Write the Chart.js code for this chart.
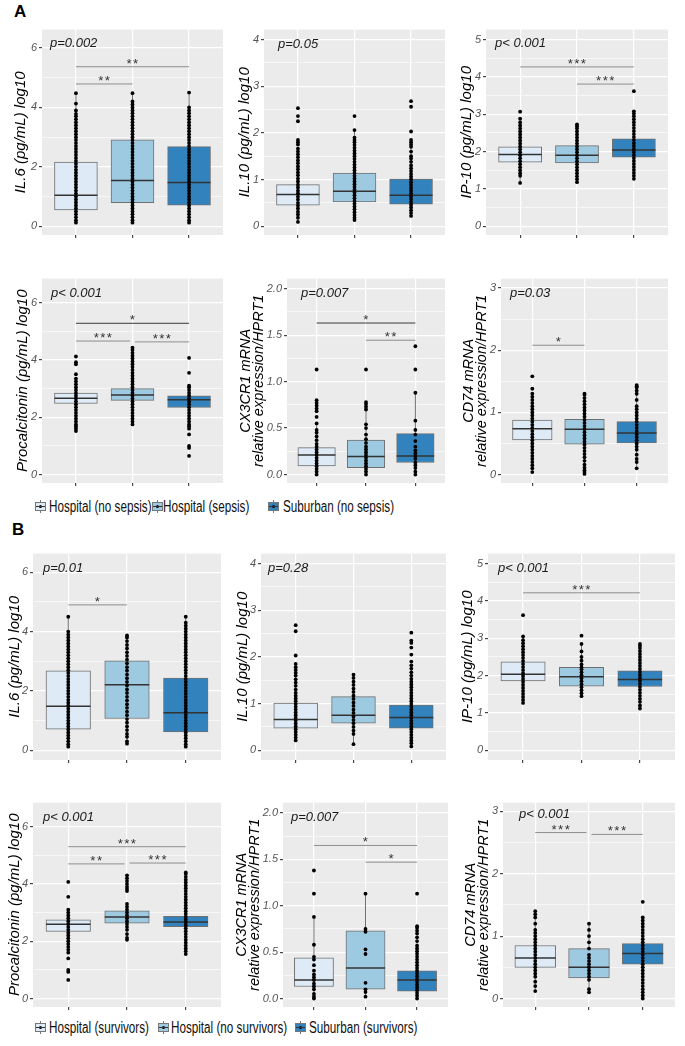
<!DOCTYPE html>
<html>
<head>
<meta charset="utf-8">
<script src="https://cdn.jsdelivr.net/npm/chart.js@4.4.1/dist/chart.umd.min.js"></script>
<style>
	body { margin: 0; width: 685px; height: 1046px; position: relative; overflow: hidden; background: #fff; font-family: "Liberation Sans", Arial, sans-serif; }
	canvas { position: absolute; }
	.tag { position: absolute; font-weight: bold; font-size: 17px; line-height: 17px; }
	.legtext { position: absolute; font-family: "Liberation Sans", Arial, sans-serif; font-size: 16px; line-height: 16px; white-space: nowrap; color: #111; transform: scaleX(0.73); transform-origin: 0 50%; }
	.key { position: absolute; width: 11px; height: 9px; box-sizing: border-box; border: 1px solid #777; }
	.key::before { content: ""; position: absolute; left: 3px; top: 2px; width: 3px; height: 3px; border-radius: 50%; background: #000; }
	.key::after { content: ""; position: absolute; left: 0; right: 0; top: 3px; height: 1px; background: #333; }
	.whisk { position: absolute; width: 1px; height: 13px; background: #777; }
</style>
</head>
<body>
<div class="tag" style="left:14px; top:3px;">A</div>
<div class="tag" style="left:12px; top:521px;">B</div>
<script>
// ---- data ----
const groupsA = ["Hospital (no sepsis)", "Hospital (sepsis)", "Suburban (no sepsis)"];
const groupsB = ["Hospital (survivors)", "Hospital (no survivors)", "Suburban (survivors)"];

const ticksIL6 = [0, 2, 4, 6];
const ticksIL10 = [0, 1, 2, 3, 4];
const ticksIP10 = [0, 1, 2, 3, 4, 5];
const ticksPCT = [0, 2, 4, 6];
const ticksCX3 = [0, 0.5, 1, 1.5, 2];
const ticksCD74 = [0, 1, 2, 3];

// box stats per group: [q1, median, q3]; whiskers: [low, high]
const a1Stats = [[0.55, 1.04, 2.16], [0.79, 1.54, 2.91], [0.71, 1.47, 2.68]];
const a1Whisk = [[0.12, 4.48], [0.12, 4.48], [0.12, 4.5]];
const a1Pts = [
	[0.12,0.2,0.3,0.4,0.5,0.6,0.7,0.8,0.9,1.0,1.1,1.2,1.3,1.4,1.5,1.6,1.7,1.8,1.9,2.0,2.1,2.2,2.3,2.4,2.5,2.6,2.7,2.8,2.9,3.0,3.1,3.2,3.3,3.4,3.5,3.6,3.7,3.78,3.9,4.13,4.48],
	[0.12,0.2,0.3,0.4,0.5,0.6,0.7,0.8,0.9,1.0,1.1,1.2,1.3,1.4,1.5,1.6,1.7,1.8,1.9,2.0,2.1,2.2,2.3,2.4,2.5,2.6,2.7,2.8,2.9,3.0,3.1,3.2,3.3,3.4,3.5,3.6,3.7,3.8,3.9,4.0,4.1,4.2,4.48],
	[0.12,0.2,0.3,0.4,0.5,0.6,0.7,0.8,0.9,1.0,1.1,1.2,1.3,1.4,1.5,1.6,1.7,1.8,1.9,2.0,2.1,2.2,2.3,2.4,2.5,2.6,2.7,2.8,2.9,3.0,3.1,3.2,3.3,3.4,3.5,3.6,3.7,3.8,3.9,4.0,4.5]
];
const a1Sig = [[1, 2, 4.79, "**"], [1, 3, 5.37, "**"]];

const a2Stats = [[0.45, 0.68, 0.89], [0.52, 0.75, 1.14], [0.47, 0.66, 1.01]];
const a2Whisk = [[0.09, 1.54], [0.13, 2.06], [0.22, 1.8]];
const a2Pts = [
	[0.09,0.18,0.25,0.31,0.38,0.44,0.5,0.57,0.63,0.7,0.76,0.83,0.89,0.96,1.02,1.09,1.15,1.22,1.28,1.35,1.41,1.48,1.54,1.6,1.66,1.75,1.8,1.85,2.25,2.36,2.53],
	[0.13,0.18,0.24,0.3,0.36,0.42,0.48,0.54,0.6,0.66,0.72,0.78,0.84,0.9,0.96,1.02,1.08,1.14,1.2,1.26,1.32,1.38,1.44,1.5,1.56,1.62,1.68,1.74,1.8,1.85,1.9,2.06,2.36],
	[0.22,0.28,0.34,0.4,0.46,0.52,0.58,0.64,0.7,0.76,0.82,0.88,0.94,1.0,1.06,1.12,1.18,1.24,1.3,1.38,1.45,1.5,1.6,1.7,1.75,1.8,1.85,2.03,2.56,2.68]
];
const a2Sig = [];

const a3Stats = [[1.72, 1.92, 2.13], [1.70, 1.90, 2.16], [1.85, 2.04, 2.34]];
const a3Whisk = [[1.16, 2.75], [1.18, 2.73], [1.27, 3.07]];
const a3Pts = [
	[1.16,1.35,1.42,1.5,1.58,1.66,1.74,1.82,1.9,1.98,2.06,2.14,2.22,2.3,2.38,2.46,2.54,2.62,2.7,2.78,2.88,3.07],
	[1.18,1.26,1.34,1.42,1.5,1.58,1.66,1.74,1.82,1.9,1.98,2.06,2.14,2.22,2.3,2.38,2.46,2.54,2.62,2.68,2.73],
	[1.27,1.35,1.43,1.51,1.59,1.67,1.75,1.83,1.91,1.99,2.07,2.15,2.23,2.31,2.39,2.47,2.55,2.63,2.71,2.79,2.87,2.95,3.02,3.08,3.62]
];
const a3Sig = [[1, 3, 4.27, "***"], [2, 3, 3.81, "***"]];

const a4Stats = [[2.48, 2.66, 2.84], [2.59, 2.78, 3.0], [2.34, 2.61, 2.75]];
const a4Whisk = [[1.95, 3.35], [1.98, 3.6], [1.75, 3.1]];
const a4Pts = [
	[1.52,1.6,1.68,1.75,1.85,1.95,2.05,2.15,2.25,2.35,2.45,2.55,2.65,2.75,2.85,2.95,3.05,3.15,3.25,3.35,3.5,3.85,3.92,4.12],
	[1.75,1.85,1.95,2.05,2.15,2.25,2.35,2.45,2.55,2.65,2.75,2.85,2.95,3.05,3.15,3.25,3.35,3.45,3.55,3.65,3.75,3.85,3.95,4.05,4.15,4.25,4.35,4.43],
	[0.65,0.93,1.0,1.4,1.6,1.68,1.75,1.85,1.95,2.05,2.15,2.25,2.35,2.45,2.55,2.65,2.75,2.85,2.95,3.05,3.1,3.55,4.07]
];
const a4Sig = [[1, 3, 5.28, "*"], [1, 2, 4.66, "***"], [2, 3, 4.63, "***"]];

const a5Stats = [[0.094, 0.21, 0.29], [0.073, 0.195, 0.37], [0.13, 0.2, 0.44]];
const a5Whisk = [[0, 0.55], [0, 0.78], [0, 0.88]];
const a5Pts = [
	[0,0.03,0.06,0.09,0.12,0.15,0.18,0.21,0.24,0.27,0.3,0.33,0.37,0.41,0.45,0.48,0.55,0.62,0.68,0.71,0.74,0.77,0.8,1.13],
	[0,0.03,0.06,0.09,0.12,0.15,0.18,0.21,0.24,0.27,0.3,0.34,0.38,0.43,0.5,0.54,0.7,0.73,0.76,0.78,1.13],
	[0,0.03,0.07,0.1,0.13,0.17,0.2,0.23,0.26,0.3,0.36,0.43,0.48,0.58,0.88,1.13,1.38]
];
const a5Sig = [[1, 3, 1.63, "*"], [2, 3, 1.445, "**"]];

const a6Stats = [[0.558, 0.735, 0.876], [0.49, 0.73, 0.887], [0.51, 0.667, 0.85]];
const a6Whisk = [[0.04, 1.3], [0.01, 1.3], [0.1, 1.35]];
const a6Pts = [
	[0.04,0.1,0.15,0.2,0.25,0.3,0.35,0.4,0.45,0.5,0.55,0.6,0.65,0.7,0.75,0.8,0.85,0.9,0.95,1.0,1.05,1.1,1.15,1.2,1.25,1.3,1.38,1.58],
	[0.01,0.04,0.07,0.11,0.16,0.22,0.28,0.33,0.38,0.43,0.48,0.53,0.58,0.63,0.68,0.73,0.78,0.83,0.88,0.93,0.98,1.03,1.08,1.13,1.18,1.23,1.28,1.3],
	[0.1,0.2,0.25,0.32,0.4,0.45,0.5,0.55,0.6,0.65,0.7,0.75,0.8,0.85,0.9,0.95,1.0,1.05,1.1,1.2,1.3,1.35,1.4,1.42,1.44]
];
const a6Sig = [[1, 2, 2.08, "*"]];

const b1Stats = [[0.71, 1.48, 2.68], [1.07, 2.21, 3.01], [0.62, 1.26, 2.43]];
const b1Whisk = [[0.12, 4.5], [0.22, 3.87], [0.12, 4.5]];
const b1Pts = [
	[0.12,0.2,0.3,0.4,0.5,0.6,0.7,0.8,0.9,1.0,1.1,1.2,1.3,1.4,1.5,1.6,1.7,1.8,1.9,2.0,2.1,2.2,2.3,2.4,2.5,2.6,2.7,2.8,2.9,3.0,3.1,3.2,3.3,3.4,3.5,3.6,3.7,3.8,3.9,4.0,4.5],
	[0.22,0.3,0.45,0.55,0.68,0.8,0.93,1.05,1.18,1.3,1.43,1.55,1.68,1.8,1.93,2.05,2.18,2.3,2.43,2.55,2.68,2.8,2.93,3.05,3.18,3.3,3.43,3.55,3.68,3.8,3.87],
	[0.12,0.2,0.3,0.4,0.5,0.6,0.7,0.8,0.9,1.0,1.1,1.2,1.3,1.4,1.5,1.6,1.7,1.8,1.9,2.0,2.1,2.2,2.3,2.4,2.5,2.6,2.7,2.8,2.9,3.0,3.1,3.2,3.3,3.4,3.5,3.6,3.7,3.8,3.9,4.0,4.1,4.2,4.3,4.5]
];
const b1Sig = [[1, 2, 4.9, "*"]];

const b2Stats = [[0.47, 0.66, 1.01], [0.58, 0.75, 1.15], [0.47, 0.70, 0.97]];
const b2Whisk = [[0.21, 1.82], [0.13, 1.64], [0.08, 1.72]];
const b2Pts = [
	[0.21,0.27,0.33,0.39,0.45,0.51,0.57,0.63,0.69,0.75,0.81,0.87,0.93,0.99,1.05,1.11,1.17,1.23,1.3,1.38,1.45,1.52,1.6,1.66,1.72,1.78,1.85,2.03,2.55,2.68],
	[0.13,0.35,0.42,0.5,0.58,0.65,0.72,0.8,0.87,0.95,1.02,1.1,1.17,1.25,1.32,1.4,1.47,1.55,1.62],
	[0.08,0.15,0.21,0.27,0.33,0.39,0.45,0.51,0.57,0.63,0.69,0.75,0.81,0.87,0.93,0.99,1.05,1.11,1.17,1.23,1.29,1.35,1.41,1.47,1.53,1.6,1.67,1.75,1.82,1.9,2.05,2.2,2.3,2.35,2.52]
];
const b2Sig = [];

const b3Stats = [[1.86, 2.04, 2.37], [1.72, 1.97, 2.22], [1.71, 1.90, 2.13]];
const b3Whisk = [[1.27, 3.05], [1.45, 2.85], [1.12, 2.76]];
const b3Pts = [
	[1.27,1.35,1.43,1.51,1.59,1.67,1.75,1.83,1.91,1.99,2.07,2.15,2.23,2.31,2.39,2.47,2.55,2.63,2.71,2.79,2.87,2.95,3.05,3.62],
	[1.45,1.53,1.61,1.69,1.77,1.85,1.93,2.01,2.09,2.17,2.22,2.3,2.4,2.5,2.65,2.85,3.07],
	[1.12,1.2,1.3,1.38,1.46,1.54,1.62,1.7,1.78,1.86,1.94,2.02,2.1,2.18,2.26,2.34,2.42,2.5,2.58,2.66,2.74,2.8,2.85]
];
const b3Sig = [[1, 3, 4.22, "***"]];

const b4Stats = [[2.34, 2.59, 2.75], [2.63, 2.85, 3.06], [2.51, 2.67, 2.87]];
const b4Whisk = [[1.8, 3.1], [2.05, 3.3], [1.97, 3.41]];
const b4Pts = [
	[0.65,0.93,1.0,1.4,1.6,1.7,1.8,1.9,2.0,2.1,2.2,2.3,2.4,2.5,2.6,2.7,2.8,2.9,3.0,3.1,3.55,4.07],
	[2.05,2.12,2.25,2.4,2.5,2.6,2.7,2.8,2.9,3.0,3.1,3.2,3.3,3.75,3.82,3.9,4.0,4.1,4.2,4.3],
	[1.55,1.65,1.75,1.85,1.95,2.05,2.15,2.25,2.35,2.45,2.55,2.65,2.75,2.85,2.95,3.05,3.15,3.25,3.35,3.45,3.55,3.65,3.75,3.85,3.95,4.05,4.15,4.25,4.35,4.4]
];
const b4Sig = [[1, 3, 5.3, "***"], [1, 2, 4.7, "**"], [2, 3, 4.73, "***"]];

const b5Stats = [[0.13, 0.2, 0.44], [0.1, 0.33, 0.73], [0.08, 0.2, 0.30]];
const b5Whisk = [[0, 0.88], [0.02, 1.13], [0, 0.62]];
const b5Pts = [
	[0,0.02,0.05,0.1,0.13,0.16,0.2,0.23,0.26,0.3,0.36,0.42,0.45,0.58,0.88,1.13,1.38],
	[0.02,0.07,0.1,0.17,0.48,0.53,0.72,0.75,1.13],
	[0,0.03,0.06,0.09,0.12,0.15,0.18,0.21,0.24,0.27,0.3,0.33,0.36,0.39,0.42,0.45,0.48,0.51,0.54,0.57,0.62,0.66,0.7,0.73,0.76,0.78,1.13]
];
const b5Sig = [[1, 3, 1.65, "*"], [2, 3, 1.47, "*"]];

const b6Stats = [[0.5, 0.65, 0.85], [0.33, 0.5, 0.8], [0.55, 0.72, 0.88]];
const b6Whisk = [[0.12, 1.35], [0.1, 1.2], [0, 1.3]];
const b6Pts = [
	[0.12,0.2,0.27,0.35,0.4,0.45,0.5,0.55,0.6,0.65,0.7,0.75,0.8,0.85,0.9,0.95,1.0,1.05,1.1,1.2,1.3,1.35,1.4],
	[0.1,0.15,0.3,0.35,0.4,0.45,0.5,0.55,0.6,0.65,0.7,0.8,0.9,1.0,1.1,1.2],
	[0,0.05,0.1,0.15,0.2,0.25,0.3,0.35,0.4,0.45,0.5,0.55,0.6,0.65,0.7,0.75,0.8,0.85,0.9,0.95,1.0,1.05,1.1,1.15,1.2,1.25,1.3,1.55]
];
const b6Sig = [[1, 2, 2.66, "***"], [2, 3, 2.63, "***"]];

// ---- layout / style ----
const fills = ["#deebf7", "#9ecae1", "#3182bd"];
const titleIL6 = "IL.6 (pg/mL) log10";
const titleIL10 = "IL.10 (pg/mL) log10";
const titleIP10 = "IP-10 (pg/mL) log10";
const titlePCT = "Procalcitonin (pg/mL) log10";
const titleCX3 = ["CX3CR1 mRNA", "relative expression/HPRT1"];
const titleCD74 = ["CD74 mRNA", "relative expression/HPRT1"];

const panels = [
	{ l: 42, t: 24, r: 225, b: 235, yMin: -0.295, yMax: 6.62, ticks: ticksIL6, dec: 0, title: titleIL6, titleX: 21, p: "p=0.002", pdx: 8, pdy: 14, stats: a1Stats, whisk: a1Whisk, pts: a1Pts, sig: a1Sig, dark: [] },
	{ l: 264, t: 24, r: 447, b: 235, yMin: -0.19, yMax: 4.215, ticks: ticksIL10, dec: 0, title: titleIL10, titleX: 245, p: "p=0.05", pdx: 14, pdy: 15, stats: a2Stats, whisk: a2Whisk, pts: a2Pts, sig: a2Sig, dark: [] },
	{ l: 486, t: 24, r: 670, b: 235, yMin: -0.235, yMax: 5.27, ticks: ticksIP10, dec: 0, title: titleIP10, titleX: 467, p: "p< 0.001", pdx: 9, pdy: 14, stats: a3Stats, whisk: a3Whisk, pts: a3Pts, sig: a3Sig, dark: [] },
	{ l: 42, t: 273, r: 225, b: 483, yMin: -0.296, yMax: 6.84, ticks: ticksPCT, dec: 0, title: titlePCT, titleX: 23, p: "p< 0.001", pdx: 9, pdy: 15, stats: a4Stats, whisk: a4Whisk, pts: a4Pts, sig: a4Sig, dark: [0] },
	{ l: 287, t: 273, r: 447, b: 483, yMin: -0.091, yMax: 2.108, ticks: ticksCX3, dec: 1, title: titleCX3, titleX: 252, p: "p=0.007", pdx: 14, pdy: 15, stats: a5Stats, whisk: a5Whisk, pts: a5Pts, sig: a5Sig, dark: [0] },
	{ l: 501, t: 273, r: 670, b: 483, yMin: -0.136, yMax: 3.152, ticks: ticksCD74, dec: 0, title: titleCD74, titleX: 475, p: "p=0.03", pdx: 9, pdy: 15, stats: a6Stats, whisk: a6Whisk, pts: a6Pts, sig: a6Sig, dark: [] },
	{ l: 33, t: 548, r: 223, b: 760, yMin: -0.33, yMax: 6.63, ticks: ticksIL6, dec: 0, title: titleIL6, titleX: 15, p: "p=0.01", pdx: 10, pdy: 15, stats: b1Stats, whisk: b1Whisk, pts: b1Pts, sig: b1Sig, dark: [] },
	{ l: 261, t: 548, r: 448, b: 760, yMin: -0.21, yMax: 4.215, ticks: ticksIL10, dec: 0, title: titleIL10, titleX: 243, p: "p=0.28", pdx: 7, pdy: 15, stats: b2Stats, whisk: b2Whisk, pts: b2Pts, sig: b2Sig, dark: [] },
	{ l: 488, t: 548, r: 677, b: 760, yMin: -0.26, yMax: 5.27, ticks: ticksIP10, dec: 0, title: titleIP10, titleX: 468, p: "p< 0.001", pdx: 10, pdy: 15, stats: b3Stats, whisk: b3Whisk, pts: b3Pts, sig: b3Sig, dark: [] },
	{ l: 33, t: 797, r: 223, b: 1007, yMin: -0.296, yMax: 6.84, ticks: ticksPCT, dec: 0, title: titlePCT, titleX: 15, p: "p< 0.001", pdx: 10, pdy: 15, stats: b4Stats, whisk: b4Whisk, pts: b4Pts, sig: b4Sig, dark: [] },
	{ l: 283, t: 797, r: 450, b: 1007, yMin: -0.091, yMax: 2.112, ticks: ticksCX3, dec: 1, title: titleCX3, titleX: 248, p: "p=0.007", pdx: 8, pdy: 15, stats: b5Stats, whisk: b5Whisk, pts: b5Pts, sig: b5Sig, dark: [] },
	{ l: 503, t: 797, r: 677, b: 1007, yMin: -0.136, yMax: 3.14, ticks: ticksCD74, dec: 0, title: titleCD74, titleX: 477, p: "p< 0.001", pdx: 16, pdy: 12, stats: b6Stats, whisk: b6Whisk, pts: b6Pts, sig: b6Sig, dark: [] }
];

const legends = [
	{ groups: groupsA, y: 507, keys: [35, 152, 268], texts: [49, 163, 283] },
	{ groups: groupsB, y: 1028, keys: [35, 158, 295], texts: [49, 171, 309] }
];

function gridTicks(major) {
	const out = [];
	for (let i = 0; i < major.length; i++) {
		out.push(major[i]);
		if (i < major.length - 1) out.push((major[i] + major[i + 1]) / 2);
	}
	return out;
}

function boxPlugin(p) {
	return {
		id: "boxExtras",
		beforeDraw(chart) {
			const { ctx, chartArea: a } = chart;
			ctx.save();
			ctx.fillStyle = "#ebebeb";
			ctx.fillRect(a.left, a.top, a.right - a.left, a.bottom - a.top);
			ctx.restore();
		},
		afterDatasetDraw(chart, args) {
			if (args.meta.type !== "bar") return;
			const ctx = chart.ctx;
			const y = chart.scales.y;
			ctx.save();
			args.meta.data.forEach(function (bar, i) {
				const s = p.stats[i];
				const w = p.whisk[i];
				ctx.strokeStyle = "#707070";
				ctx.lineWidth = 1;
				ctx.beginPath();
				ctx.moveTo(bar.x, y.getPixelForValue(s[2]));
				ctx.lineTo(bar.x, y.getPixelForValue(w[1]));
				ctx.moveTo(bar.x, y.getPixelForValue(s[0]));
				ctx.lineTo(bar.x, y.getPixelForValue(w[0]));
				ctx.stroke();
				const my = y.getPixelForValue(s[1]);
				ctx.strokeStyle = "#333";
				ctx.lineWidth = 1.5;
				ctx.beginPath();
				ctx.moveTo(bar.x - bar.width / 2, my);
				ctx.lineTo(bar.x + bar.width / 2, my);
				ctx.stroke();
			});
			ctx.restore();
		},
		afterDraw(chart) {
			const { ctx, chartArea: a } = chart;
			const xs = chart.scales.x;
			const ys = chart.scales.y;
			ctx.save();
			// significance brackets
			p.sig.forEach(function (s, k) {
				let x1 = xs.getPixelForValue(s[0]);
				let x2 = xs.getPixelForValue(s[1]);
				const yy = ys.getPixelForValue(s[2]);
				p.sig.forEach(function (o, m) {
					if (m === k || Math.abs(ys.getPixelForValue(o[2]) - yy) > 6) return;
					if (o[0] === s[1]) x2 -= 2.5;
					if (o[1] === s[0]) x1 += 2.5;
				});
				ctx.strokeStyle = p.dark.includes(k) ? "#3a3a3a" : "#8e8e8e";
				ctx.lineWidth = 1;
				ctx.beginPath();
				ctx.moveTo(x1, yy);
				ctx.lineTo(x2, yy);
				ctx.stroke();
				ctx.fillStyle = "#333";
				ctx.font = 'italic 13px "Liberation Sans"';
				ctx.textAlign = "center";
				ctx.textBaseline = "alphabetic";
				if ("letterSpacing" in ctx) ctx.letterSpacing = "1.5px";
				ctx.fillText(s[3], (x1 + x2) / 2, yy + 1);
				if ("letterSpacing" in ctx) ctx.letterSpacing = "0px";
			});
			ctx.fillStyle = "#1a1a1a";
			ctx.font = 'italic 13px "Liberation Sans"';
			ctx.textAlign = "left";
			ctx.textBaseline = "middle";
			ctx.fillText(p.p, a.left + p.pdx, a.top + p.pdy);
			ctx.restore();
		}
	};
}

function makePanel(p) {
	const lines = Array.isArray(p.title) ? p.title.length : 1;
	const tSize = lines > 1 ? 14.5 : 15;
	const tLh = lines > 1 ? 0.9 : 1.2;
	const cLeft = Math.round(p.titleX - (lines * tSize * tLh) / 2 - 1);
	const cTop = p.t - 3;
	const yW = p.l - cLeft;
	const canvas = document.createElement("canvas");
	canvas.width = p.r + 2 - cLeft;
	canvas.height = p.b + 12 - cTop;
	canvas.style.left = cLeft + "px";
	canvas.style.top = cTop + "px";
	document.body.appendChild(canvas);

	const allTicks = gridTicks(p.ticks);
	const isMajor = (v) => p.ticks.some((t) => Math.abs(t - v) < 1e-9);
	const bw = 0.75 * (p.r - p.l) / 3.2;

	const scatterData = [];
	p.pts.forEach(function (vals, g) {
		vals.forEach(function (v) {
			scatterData.push({ x: g + 1, y: v });
		});
	});

	new Chart(canvas, {
		type: "scatter",
		data: {
			datasets: [
				{
					type: "scatter",
					data: scatterData,
					pointRadius: 1.9,
					pointBackgroundColor: "#000",
					pointBorderWidth: 0,
					order: 0
				},
				{
					type: "bar",
					data: p.stats.map((s, i) => ({ x: i + 1, y: [s[0], s[2]] })),
					backgroundColor: fills,
					borderColor: "#707070",
					borderWidth: 1,
					borderSkipped: false,
					barThickness: bw,
					order: 1
				}
			]
		},
		options: {
			responsive: false,
			animation: false,
			events: [],
			devicePixelRatio: 1,
			layout: { padding: { left: 0, right: 2, top: 3, bottom: 0 } },
			plugins: { legend: { display: false }, tooltip: { enabled: false } },
			scales: {
				x: {
					type: "linear",
					min: 0.4,
					max: 3.6,
					offset: false,
					afterBuildTicks: (s) => { s.ticks = [1, 2, 3].map((v) => ({ value: v })); },
					afterFit: (s) => { s.height = 12; },
					ticks: { display: false },
					grid: { color: "#fff", lineWidth: 1.2, drawTicks: true, tickLength: 3, tickColor: "#444", offset: false },
					border: { display: false }
				},
				y: {
					type: "linear",
					min: p.yMin,
					max: p.yMax,
					afterBuildTicks: (s) => { s.ticks = allTicks.map((v) => ({ value: v })); },
					afterFit: (s) => { s.width = yW; },
					ticks: {
						autoSkip: false,
						padding: 2,
						color: "#555",
						font: { family: "Liberation Sans", size: 11, style: "italic" },
						callback: (v) => (isMajor(v) ? v.toFixed(p.dec) : "")
					},
					grid: {
						color: "#fff",
						lineWidth: (c) => (isMajor(c.tick.value) ? 1.2 : 0.6),
						tickColor: (c) => (isMajor(c.tick.value) ? "#444" : "rgba(0,0,0,0)"),
						tickLength: 3
					},
					border: { display: false },
					title: {
						display: true,
						text: p.title,
						color: "#000",
						font: { family: "Liberation Sans", size: tSize, style: "italic", lineHeight: tLh },
						padding: { top: 1, bottom: 0 }
					}
				}
			}
		},
		plugins: [boxPlugin(p)]
	});
}

panels.forEach(makePanel);

legends.forEach(function (lg) {
	lg.groups.forEach(function (name, i) {
		const wh = document.createElement("div");
		wh.className = "whisk";
		wh.style.left = (lg.keys[i] + 5) + "px";
		wh.style.top = (lg.y - 7) + "px";
		document.body.appendChild(wh);
		const key = document.createElement("div");
		key.className = "key";
		key.style.left = lg.keys[i] + "px";
		key.style.top = (lg.y - 5) + "px";
		key.style.background = fills[i];
		document.body.appendChild(key);
		const txt = document.createElement("div");
		txt.className = "legtext";
		txt.textContent = name;
		txt.style.left = lg.texts[i] + "px";
		txt.style.top = (lg.y - 8) + "px";
		document.body.appendChild(txt);
	});
});
</script>
</body>
</html>
